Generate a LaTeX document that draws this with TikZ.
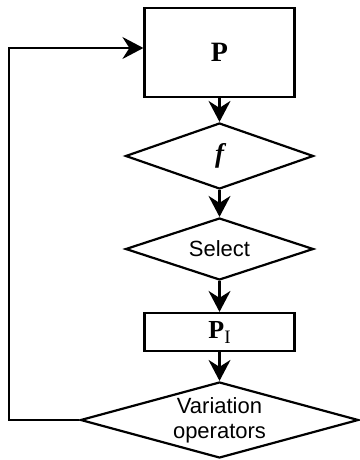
\documentclass[tikz,border=0pt]{standalone}
\usepackage{fontspec}
\setmainfont{Liberation Sans}
\newfontfamily\tms{Liberation Serif}
\usetikzlibrary{shapes.geometric,arrows.meta}

\tikzset{
  flow/.style={line width=2.2pt},
  boxnode/.style={flow, draw, rectangle, inner sep=0pt, minimum width=150pt},
  decision/.style={flow, draw, diamond, inner sep=0pt, align=center,
    font=\fontsize{22}{25}\selectfont},
  link/.style={flow, -{Stealth[length=21pt,width=22pt,inset=7pt]}},
}

\begin{document}
\begin{tikzpicture}[x=1pt,y=-1pt]
  \useasboundingbox (0,0) rectangle (359,460);

  % population and the flow of one generation
  \node[boxnode, minimum height=89pt] (P) at (219.5,52.5)
    {\fontsize{28}{30}\selectfont\tms\bfseries P};
  \node[decision, shape aspect=2.85, minimum width=188pt, minimum height=66pt] (f) at (219.5,156)
    {\fontsize{27}{29}\selectfont\tms\bfseries\itshape f};
  \node[decision, shape aspect=3.03, minimum width=188pt, minimum height=62pt] (sel) at (219.5,249)
    {Select};
  \node[boxnode, minimum height=38pt] (PI) at (219.5,332)
    {\tms{\fontsize{26}{28}\selectfont\bfseries P}\raisebox{-5pt}{\tms\fontsize{19}{21}\selectfont I}};
  \node[decision, shape aspect=3.66, minimum width=278pt, minimum height=76pt] (var) at (219.5,420)
    {Variation\\operators};

  \draw[link] (P) -- (f);
  \draw[link] (f) -- (sel);
  \draw[link] (sel) -- (PI);
  \draw[link] (PI) -- (var);

  % feedback to the next generation
  \coordinate (loop) at (9,48);
  \draw[link] (var.west) -| (loop) -- (loop -| P.west);
\end{tikzpicture}
\end{document}
